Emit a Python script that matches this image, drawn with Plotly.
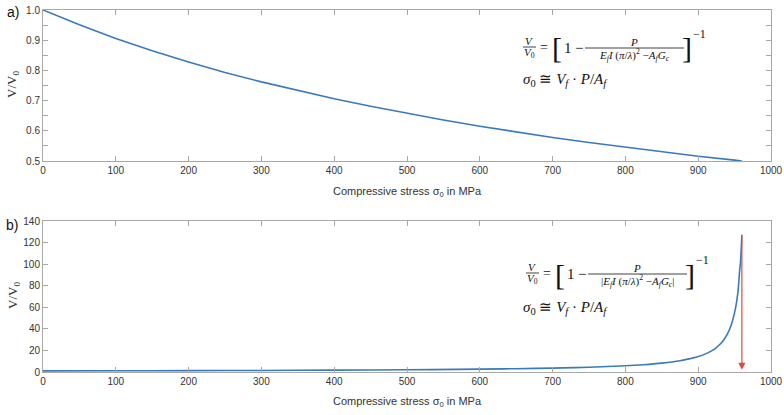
import plotly.graph_objects as go

# values (stress in MPa, normalised V/V0)
stress_a = [0, 50, 100, 150, 200, 250, 300, 350, 400, 450, 500,
            550, 600, 650, 700, 750, 800, 850, 900, 950, 960]
ratio_a = [1.000, 0.951, 0.906, 0.865, 0.828, 0.793, 0.762, 0.733, 0.706, 0.681, 0.658,
           0.636, 0.615, 0.596, 0.578, 0.561, 0.546, 0.530, 0.516, 0.503, 0.500]

stress_b = [0, 100, 200, 300, 400, 500, 600, 650, 700, 750, 800, 825, 850,
            875, 890, 900, 910, 920, 925, 930, 935, 940, 945, 950, 953, 955, 957, 958, 959, 960]
ratio_b = [1.0, 1.12, 1.26, 1.45, 1.71, 2.07, 2.63, 3.05, 3.62, 4.45, 5.77, 6.79, 8.23,
           10.45, 12.6, 14.3, 16.8, 20.3, 22.7, 25.7, 29.7, 35.1, 42.8, 55.0, 65.9, 76.8,
           94.6, 100.8, 113.0, 127.3]

x_ticks = [0, 100, 200, 300, 400, 500, 600, 700, 800, 900, 1000]
arrow_x = 960
arrow_top = 127.3

BLUE = "#3a7aba"
RED = "#e8453c"
GREY = "#a8a8a8"
TXT = "#333333"

L, R, T, B = 43, 13, 10, 43
W, H = 784, 415


def px(x):
    return (x - L) / (W - L - R)


def py(y):
    return (H - B - y) / (H - T - B)


fig = go.Figure()
fig.add_trace(go.Scatter(x=stress_a, y=ratio_a, mode="lines", line=dict(color=BLUE, width=1.6),
                         xaxis="x", yaxis="y", showlegend=False))
fig.add_trace(go.Scatter(x=stress_b, y=ratio_b, mode="lines", line=dict(color=BLUE, width=1.6, shape="spline"),
                         xaxis="x2", yaxis="y2", showlegend=False))

axis_common = dict(showline=True, linecolor=GREY, linewidth=1, mirror="ticks", ticks="inside",
                   tickcolor=GREY, ticklen=5, showgrid=False, zeroline=False,
                   tickfont=dict(family="Liberation Sans, Arial", size=10, color=TXT))

fig.update_layout(
    width=W, height=H, margin=dict(l=L, r=R, t=T, b=B, autoexpand=False),
    paper_bgcolor="white", plot_bgcolor="white",
    xaxis=dict(domain=[0, 1], range=[0, 1000], tickvals=x_ticks, anchor="y", **axis_common),
    yaxis=dict(domain=[py(161), 1], range=[0.5, 1.0], dtick=0.1, tickformat=".1f",
               minor=dict(ticks="inside", dtick=0.05, ticklen=5, tickcolor=GREY), anchor="x", **axis_common),
    xaxis2=dict(domain=[0, 1], range=[0, 1000], tickvals=x_ticks, anchor="y2", **axis_common),
    yaxis2=dict(domain=[0, py(221)], range=[0, 140], dtick=20, anchor="x2", **axis_common),
)

ann = []
shapes = []
serif = "Liberation Serif, Times New Roman"
sans = "Liberation Sans, Arial"


def txt(x, y, s, size=12, family=serif, xanchor="center", angle=0, color="#111111"):
    ann.append(dict(x=px(x), y=py(y), xref="paper", yref="paper", text=s, showarrow=False,
                    xanchor=xanchor, yanchor="middle", textangle=angle,
                    font=dict(family=family, size=size, color=color)))


# panel labels, axis titles
txt(13, 12, "a)", 14, sans)
txt(12, 225, "b)", 14, sans)
for yc in (85, 296):
    txt(13, yc, "V/V<sub>0</sub>", 13, serif, angle=-90, color=TXT)
txt(407, 192, "Compressive stress σ<sub>0</sub> in MPa", 11, sans, color=TXT)
txt(407, 402, "Compressive stress σ<sub>0</sub> in MPa", 11, sans, color=TXT)


def formula(y0, absval, dx=0):
    # V / V0
    txt(529 + dx, y0 - 6, "<i>V</i>", 11)
    txt(529 + dx, y0 + 6, "<i>V</i><sub>0</sub>", 11)
    shapes.append(dict(type="line", xref="paper", yref="paper", x0=px(523 + dx), x1=px(536 + dx),
                       y0=py(y0), y1=py(y0), line=dict(color="#111111", width=0.8)))
    txt(544 + dx, y0, "=", 14)
    txt(557 + dx, y0 + 1, "[", 30)
    txt(568 + dx, y0 + 1, "1", 15)
    txt(579 + dx, y0 + 1, "−", 15)
    den = "<i>E<sub>f</sub>I</i> (<i>π</i>/<i>λ</i>)<sup>2</sup> −<i>A<sub>f</sub>G<sub>c</sub></i>"
    if absval:
        den = "|" + den + "|"
    txt(634 + dx, y0 - 5, "<i>P</i>", 11)
    txt(634 + dx, y0 + 8, den, 11)
    shapes.append(dict(type="line", xref="paper", yref="paper", x0=px(585 + dx), x1=px(684 + dx),
                       y0=py(y0 + 1), y1=py(y0 + 1), line=dict(color="#111111", width=0.8)))
    txt(687 + dx, y0 + 1, "]", 30)
    txt(691 + dx, y0 - 13, "−1", 12, xanchor="left")


formula(47, False)
txt(521, 80, "<i>σ</i><sub>0</sub> ≅ <i>V<sub>f</sub></i> · <i>P</i>/<i>A<sub>f</sub></i>", 15, xanchor="left")
formula(273, True, 3)
txt(521, 308, "<i>σ</i><sub>0</sub> ≅ <i>V<sub>f</sub></i> · <i>P</i>/<i>A<sub>f</sub></i>", 15, xanchor="left")

# red arrow at buckling stress
ann.append(dict(x=arrow_x, y=2, ax=arrow_x, ay=arrow_top, xref="x2", yref="y2", axref="x2", ayref="y2",
                showarrow=True, arrowhead=2, arrowsize=1.2, arrowwidth=1.2, arrowcolor=RED, text=""))

fig.update_layout(annotations=ann, shapes=shapes)
# page body has a default 8px margin; drop it so the figure sits at the window corner
fig.write_html("out.html", config={"displayModeBar": False},
               post_script="document.body.style.margin='0';")
